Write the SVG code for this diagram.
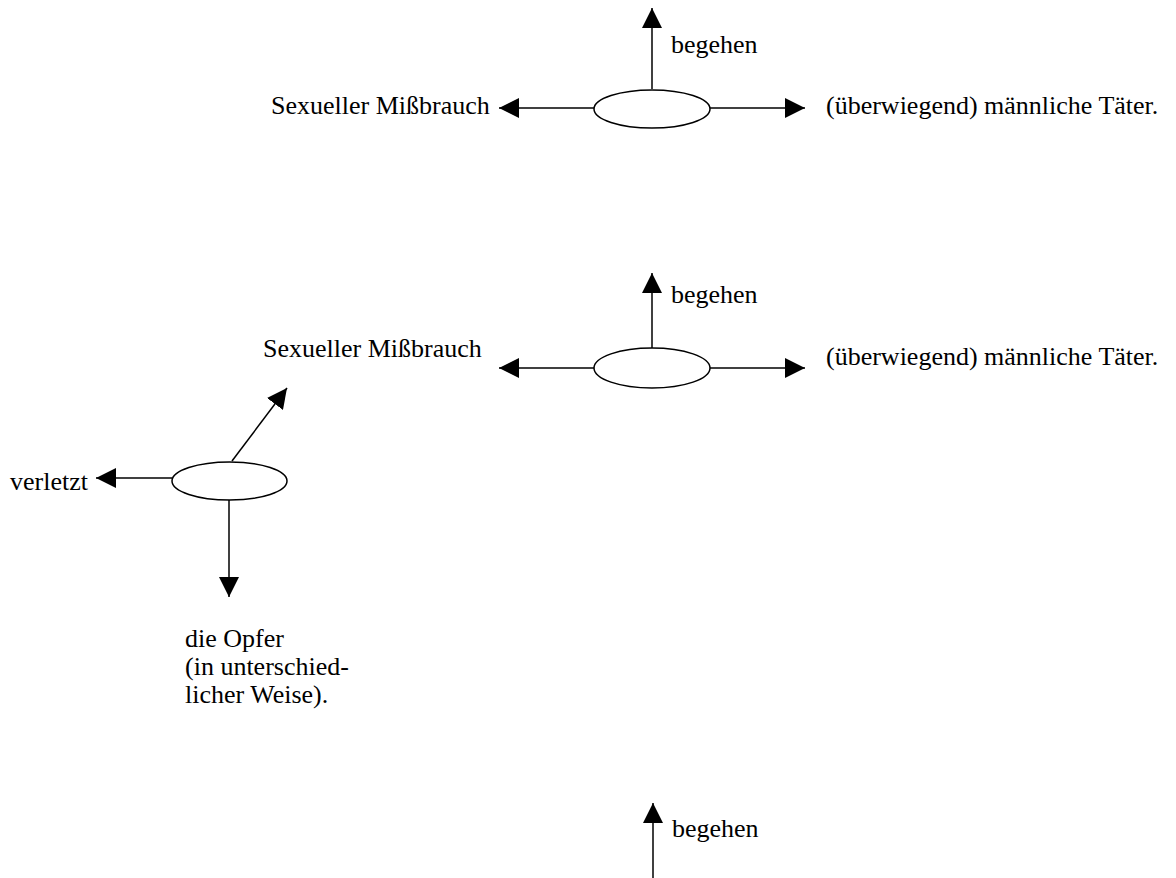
<svg xmlns="http://www.w3.org/2000/svg" width="1176" height="878" viewBox="0 0 1176 878">
<style>
.t{font-family:"Liberation Serif","Times New Roman",serif;font-size:26px;fill:#000}
.e{fill:#fff;stroke:#000;stroke-width:1.5}
.c{stroke:#000;stroke-width:1.5;fill:none;marker-end:url(#ah)}
</style>
<defs>
<marker id="ah" markerUnits="userSpaceOnUse" markerWidth="20" markerHeight="20" refX="20" refY="10" orient="auto">
<path d="M0,0 L20,10 L0,20 z" fill="#000"/>
</marker>
</defs>
<rect width="1176" height="878" fill="#fff"/>
<g id="connectors">
<line class="c" x1="652" y1="89" x2="652" y2="8"/>
<line class="c" x1="594" y1="108" x2="499" y2="108"/>
<line class="c" x1="710" y1="108" x2="805" y2="108"/>
<line class="c" x1="652" y1="348" x2="652" y2="273"/>
<line class="c" x1="594" y1="368" x2="499" y2="368"/>
<line class="c" x1="710" y1="368" x2="805" y2="368"/>
<line class="c" x1="232" y1="461" x2="287" y2="388"/>
<line class="c" x1="172" y1="478" x2="96" y2="478"/>
<line class="c" x1="229" y1="500" x2="229" y2="597"/>
<line class="c" x1="653" y1="878" x2="653" y2="803"/>
</g>
<g id="node-e1"><ellipse class="e" cx="652" cy="109" rx="58" ry="19"/></g>
<g id="node-begehen1"><text class="t" x="671" y="53">begehen</text></g>
<g id="node-miss1"><text class="t" x="271" y="114">Sexueller Mißbrauch</text></g>
<g id="node-taeter1"><text class="t" x="826" y="114">(überwiegend) männliche Täter.</text></g>
<g id="node-e2"><ellipse class="e" cx="652" cy="368" rx="58" ry="20"/></g>
<g id="node-begehen2"><text class="t" x="671" y="303">begehen</text></g>
<g id="node-miss2"><text class="t" x="263" y="357">Sexueller Mißbrauch</text></g>
<g id="node-taeter2"><text class="t" x="826" y="365">(überwiegend) männliche Täter.</text></g>
<g id="node-e3"><ellipse class="e" cx="229.5" cy="481" rx="57.5" ry="19"/></g>
<g id="node-verletzt"><text class="t" x="10" y="490">verletzt</text></g>
<g id="node-opfer"><text class="t" x="185" y="647">die Opfer</text><text class="t" x="185" y="675">(in unterschied-</text><text class="t" x="185" y="703">licher Weise).</text></g>
<g id="node-begehen3"><text class="t" x="672" y="837">begehen</text></g>
</svg>
